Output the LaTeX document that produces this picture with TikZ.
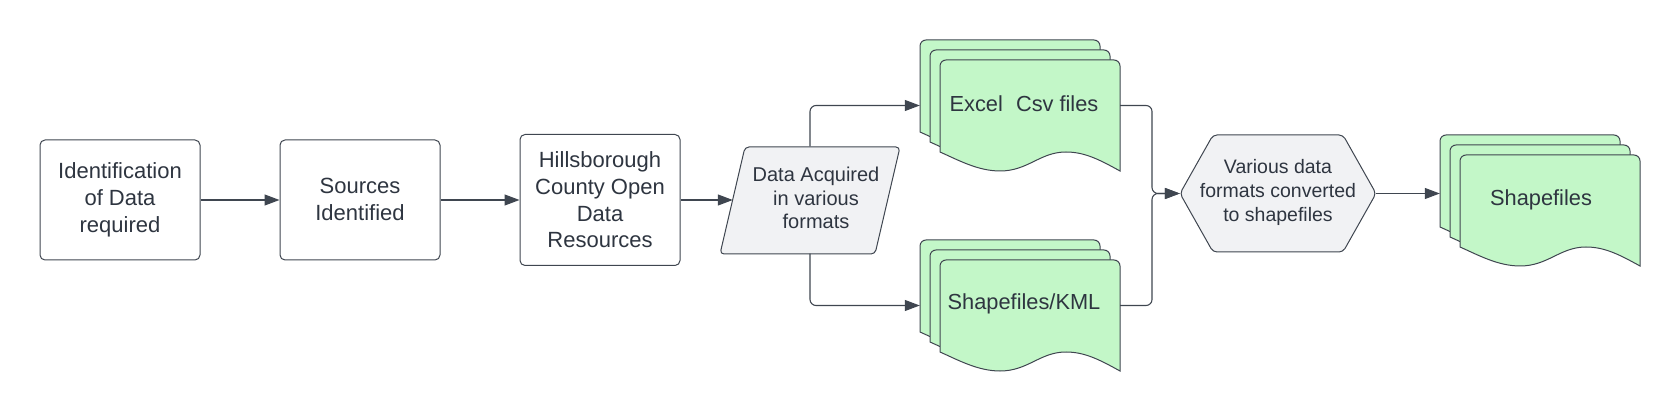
\documentclass[tikz,border=0pt]{standalone}
\usepackage{fontspec}
\setmainfont{Liberation Sans}
\usetikzlibrary{arrows.meta,calc}
\definecolor{lc}{HTML}{3F4650}
\definecolor{tc}{HTML}{2E3540}
\definecolor{gfill}{HTML}{C3F7C8}
\definecolor{pfill}{HTML}{F1F2F4}
\tikzset{
  procbox/.style={draw=lc, line width=1pt, rounded corners=5pt, fill=white,
    minimum width=160pt, align=center, text=tc, inner sep=0pt,
    font=\fontsize{22}{26.7}\selectfont},
  conn/.style={draw=lc, line width=1.1pt, -{Triangle[length=15pt,width=11pt]}},
  sheetstyle/.style={draw=lc, line width=1pt, fill=gfill},
  shapestyle/.style={draw=lc, line width=1pt, fill=pfill, rounded corners=4pt},
  holder/.style={draw=none, inner sep=0pt, align=center, text=tc},
  doctext/.style={holder, font=\fontsize{21.8}{26}\selectfont},
}
\newcommand\drawsheet[2]{%
  \begin{scope}[shift={(#1,#2)}]
    \filldraw[sheetstyle] (0,92) -- (0,6) .. controls (0,2.7) and (2.7,0) .. (6,0)
      -- (174,0) .. controls (177.3,0) and (180,2.7) .. (180,6) -- (180,111)
      .. controls (160,100) and (145,92) .. (126,92)
      .. controls (100,92) and (88,111) .. (60,111)
      .. controls (38,111) and (18,100) .. (0,92) -- cycle;
  \end{scope}}
\newcommand\drawstack[2]{%
  \drawsheet{#1}{#2}%
  \drawsheet{#1+10}{#2+10}%
  \drawsheet{#1+20}{#2+20}}
\begin{document}
\begin{tikzpicture}[x=1pt,y=-1pt]
\useasboundingbox (0,0) rectangle (1680,411);

% process boxes
\node[procbox, minimum height=120pt] (b1) at (120,200) {Identification\\of Data\\required};
\node[procbox, minimum height=120pt] (b2) at (360,200) {\raisebox{2pt}{Sources}\\\raisebox{2pt}{Identified}};
\node[procbox, minimum height=131pt] (b3) at (600,200) {Hillsborough\\County Open\\Data\\Resources};

% parallelogram
\draw[shapestyle] (745,147) -- (900,147) -- (875,254) -- (720,254) -- cycle;
\node[holder, minimum width=154pt, minimum height=107pt] (para) at (810,200) {};
\node[holder, font=\fontsize{20}{23.4}\selectfont] (paratext) at (816,198) {Data Acquired\\in various\\formats};

% document stacks
\drawstack{920}{40}
\node[holder, minimum width=200pt, minimum height=131pt] (excel) at (1020,105.5) {};
\node[doctext] (exceltext) at (1024,104) {Excel\hspace{0.6em}Csv files};

\drawstack{920}{240}
\node[holder, minimum width=200pt, minimum height=131pt] (kml) at (1020,305.5) {};
\node[doctext] (kmltext) at (1024,304) {Shapefiles/KML};

\drawstack{1440}{135}
\node[holder, minimum width=200pt, minimum height=131pt] (shp) at (1540,200.5) {};
\node[doctext] (shptext) at (1541,200) {Shapefiles};

% hexagon
\draw[shapestyle] (1180,193.5) -- (1213,135) -- (1343,135) -- (1376,193.5)
  -- (1343,252) -- (1213,252) -- cycle;
\node[holder, minimum width=196pt, minimum height=117pt] (hex) at (1278,193.5) {};
\node[holder, font=\fontsize{19.5}{24}\selectfont] (hextext) at (1278,192) {Various data\\formats converted\\to shapefiles};

\coordinate (join) at (1152,193.5);

% connectors
\draw[conn] (b1) -- (b2);
\draw[conn] (b2) -- (b3);
\draw[conn] (b3.east) -- (para.west);
\draw[conn, rounded corners=6pt] (para.north) |- (excel.west);
\draw[conn, rounded corners=6pt] (para.south) |- (kml.west);
\draw[conn, rounded corners=6pt] (excel.east) -| (join) -- (hex.west);
\draw[conn, rounded corners=6pt] (kml.east) -| (join) -- (hex.west);
\draw[conn] (hex.east) -- (hex.east -| shp.west);
\end{tikzpicture}
\end{document}
